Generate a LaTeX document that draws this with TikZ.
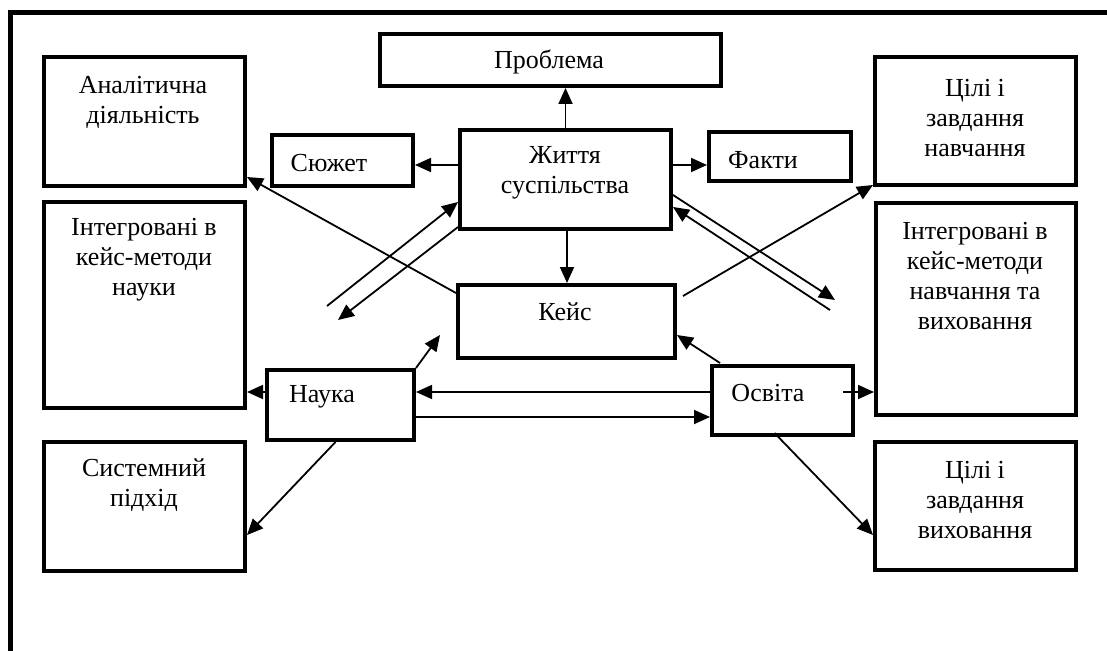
\documentclass[tikz,border=0pt]{standalone}
\usepackage{fontspec}
\setmainfont{Liberation Serif}
\usetikzlibrary{arrows.meta,calc}
\begin{document}
\begin{tikzpicture}[x=1pt,y=-1pt,
  box/.style={draw,line width=4pt,rectangle,inner sep=0pt},
  txt/.style={inner sep=0pt,align=center,font=\fontsize{26}{30}\selectfont},
  arr/.style={line width=1.8pt,-{Triangle[length=16pt,width=14pt]}},
  plain/.style={line width=1.8pt}]
\useasboundingbox (0,0) rectangle (1107,650);
% frame
\draw[line width=5pt] (1110,12.5) -- (10.5,12.5) -- (10.5,655);
% boxes (outer measured size minus line width)
\node[box,minimum width=341pt,minimum height=52pt] (prob) at (550.5,60) {};
\node[box,minimum width=201pt,minimum height=129pt] (anal) at (144.5,121.5) {};
\node[box,minimum width=141pt,minimum height=51pt] (syuzh) at (342.5,160.5) {};
\node[box,minimum width=211pt,minimum height=99pt] (zhyt) at (565.5,179.5) {};
\node[box,minimum width=142pt,minimum height=49pt] (fakty) at (780,156.5) {};
\node[box,minimum width=201pt,minimum height=128pt] (tsilin) at (975.5,121) {};
\node[box,minimum width=201pt,minimum height=206pt] (intn) at (144.5,305) {};
\node[box,minimum width=147pt,minimum height=70pt] (nauka) at (340.5,405) {};
\node[box,minimum width=217pt,minimum height=73pt] (keys) at (566.5,321.5) {};
\node[box,minimum width=141pt,minimum height=69pt] (osvita) at (782.5,400.5) {};
\node[box,minimum width=200pt,minimum height=212pt] (intnv) at (976,309) {};
\node[box,minimum width=201pt,minimum height=129pt] (syst) at (144.5,506.5) {};
\node[box,minimum width=201pt,minimum height=128pt] (tsilvyh) at (975.5,506) {};
% texts
\node[txt] (probT) at (549,62) {Проблема};
\node[txt] (analT) at (143,102) {Аналітична\\діяльність};
\node[txt] (syuzhT) at (329,163) {Сюжет};
\node[txt] (zhytT) at (565,173) {Життя\\суспільства};
\node[txt] (faktyT) at (763,160) {Факти};
\node[txt] (tsilinT) at (975,118) {Цілі і\\завдання\\навчання};
\node[txt] (intnT) at (144,260) {Інтегровані в\\кейс-методи\\науки};
\node[txt] (naukaT) at (322,397) {Наука};
\node[txt] (keysT) at (565,312) {Кейс};
\node[txt] (osvitaT) at (768,393) {Освіта};
\node[txt] (intnvT) at (975,276) {Інтегровані в\\кейс-методи\\навчання та\\виховання};
\node[txt] (systT) at (144,485) {Системний\\підхід};
\node[txt] (tsilvyhT) at (975,500) {Цілі і\\завдання\\виховання};
% free ends
\coordinate (f1) at (327,306);
\coordinate (f2) at (338,320);
\coordinate (f3) at (835,300);
\coordinate (f4) at (830,310);
\coordinate (f5) at (440,335);
% connectors
\draw[arr] (zhyt.north) -- (zhyt.north |- prob.south);
\draw[arr] ($(zhyt.west)+(0,-14.5)$) -- ($(syuzh.east)+(0,4.5)$);
\draw[arr] ($(zhyt.east)+(0,-14.5)$) -- ($(fakty.west)+(0,8.5)$);
\draw[arr] ($(zhyt.south)+(1.5,0)$) -- ($(keys.north)+(0.5,0)$);
\draw[arr] ($(keys.north west)+(0,10)$) -- ($(anal.south east)+(0,-11)$);
\draw[arr] (f1) -- ($(zhyt.north west)+(0,74)$);
\draw[arr] ($(zhyt.north west)+(0,99)$) -- (f2);
\draw[arr] ($(zhyt.north east)+(0,67)$) -- (f3);
\draw[arr] (f4) -- ($(zhyt.north east)+(0,79)$);
\draw[arr] ($(keys.east)+(6,-25.5)$) -- ($(tsilin.south west)+(0,-2)$);
\draw[arr] (nauka.north east) -- (f5);
\draw[arr] ($(osvita.north west)+(10,-1)$) -- ($(keys.east)+(0,13.5)$);
\draw[arr] ($(nauka.west)+(0,-13)$) -- ($(intn.east)+(0,87)$);
\draw[arr] ($(osvita.west)+(0,-8.5)$) -- ($(nauka.east)+(0,-13)$);
\draw[arr] ($(nauka.east)+(0,12)$) -- ($(osvita.west)+(0,16.5)$);
\draw[arr] ($(osvita.east)+(-12,-8.5)$) -- ($(intnv.west)+(0,83)$);
\draw[arr] ($(nauka.south)+(-5,0)$) -- ($(syst.east)+(0,28.5)$);
\draw[arr] ($(osvita.south)+(-8,-4)$) -- ($(tsilvyh.west)+(0,29)$);
\end{tikzpicture}
\end{document}
